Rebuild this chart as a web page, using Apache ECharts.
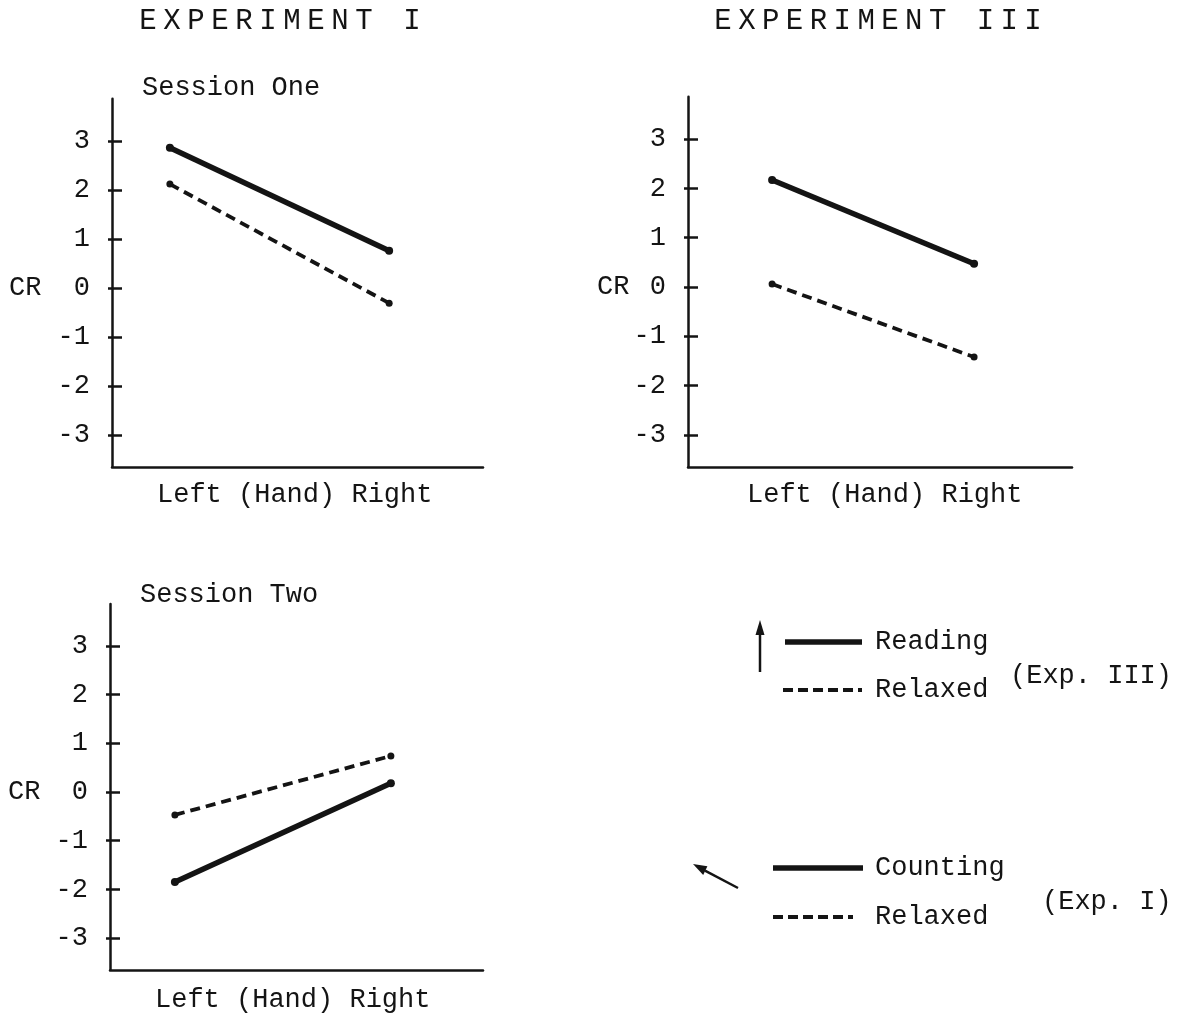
<!DOCTYPE html>
<html>
<head>
<meta charset="utf-8">
<script src="https://cdn.jsdelivr.net/npm/echarts@6/dist/echarts.min.js"></script>
<style>
  html, body { margin: 0; padding: 0; background: #fff; }
  #chart { width: 1181px; height: 1017px; }
</style>
</head>
<body>
<div id="chart"></div>
<script>
// values (CR scale)
var yTicks = [-3, -2, -1, 0, 1, 2, 3];
var yMin = -3.65, yMax = 3.86;

// horizontal position of Left / Right hand points inside each panel (0..10)
var handPosOne = [1.56, 7.47];
var handPosThree = [2.19, 7.45];
var handPosTwo = [1.74, 7.53];

var sessionOneCounting = [2.86, 0.76];
var sessionOneRelaxed = [2.12, -0.31];
var expThreeReading = [2.17, 0.47];
var expThreeRelaxed = [0.06, -1.42];
var sessionTwoCounting = [-1.85, 0.18];
var sessionTwoRelaxed = [-0.47, 0.74];

var FONT = '"Liberation Mono", "DejaVu Sans Mono", monospace';
var INK = '#141414';

var myChart = echarts.init(document.getElementById('chart'));

// grid placement: zero line y + pixels per unit
function gridFor(left, right, zeroY, unit) {
    return {
        left: left,
        width: right - left,
        top: zeroY - yMax * unit,
        height: (yMax - yMin) * unit
    };
}

function pts(pos, vals) {
    return [[pos[0], vals[0]], [pos[1], vals[1]]];
}

var xAxes = [0, 1, 2].map(function(i) {
    return {
        type: 'value',
        gridIndex: i,
        min: 0,
        max: 10,
        axisLine: { show: true, onZero: false, lineStyle: { color: INK, width: 2.5 } },
        axisTick: { show: false },
        axisLabel: { show: false },
        splitLine: { show: false }
    };
});

var yAxes = [0, 1, 2].map(function(i) {
    return {
        type: 'value',
        gridIndex: i,
        position: 'left',
        min: yMin,
        max: yMax,
        axisLine: { show: true, lineStyle: { color: INK, width: 2.5 } },
        axisTick: {
            show: true,
            inside: true,
            length: 10,
            customValues: yTicks,
            lineStyle: { color: INK, width: 2.5 }
        },
        axisLabel: {
            show: true,
            margin: 22,
            customValues: yTicks,
            color: INK,
            fontFamily: FONT,
            fontSize: 27
        },
        splitLine: { show: false }
    };
});
// short outer part of the ticks (they cross the axis line)
[0, 1, 2].forEach(function(i) {
    yAxes.push({
        type: 'value',
        gridIndex: i,
        position: 'left',
        offset: 0,
        min: yMin,
        max: yMax,
        axisLine: { show: false },
        axisTick: {
            show: true,
            inside: false,
            length: 4,
            customValues: yTicks,
            lineStyle: { color: INK, width: 2.5 }
        },
        axisLabel: { show: false },
        splitLine: { show: false }
    });
});

function lineSeries(idx, data, dashed) {
    return {
        type: 'line',
        xAxisIndex: idx,
        yAxisIndex: idx,
        data: data,
        symbol: 'circle',
        symbolSize: dashed ? 7 : 8,
        itemStyle: { color: INK },
        lineStyle: dashed
            ? { color: INK, width: 3.8, type: [10, 6] }
            : { color: INK, width: 5.5 },
        animation: false
    };
}

var series = [
    lineSeries(0, pts(handPosOne, sessionOneCounting), false),
    lineSeries(0, pts(handPosOne, sessionOneRelaxed), true),
    lineSeries(1, pts(handPosThree, expThreeReading), false),
    lineSeries(1, pts(handPosThree, expThreeRelaxed), true),
    lineSeries(2, pts(handPosTwo, sessionTwoCounting), false),
    lineSeries(2, pts(handPosTwo, sessionTwoRelaxed), true)
];

function txt(text, x, y, align, size) {
    return {
        type: 'text',
        x: x,
        y: y,
        style: {
            text: text,
            fill: INK,
            font: (size || 27) + 'px ' + FONT,
            align: align || 'left',
            verticalAlign: 'middle',
            textAlign: align || 'left',
            textVerticalAlign: 'middle'
        }
    };
}

function spaced(text, x0, pitch, y) {
    var out = [];
    for (var i = 0; i < text.length; i++) {
        if (text[i] !== ' ') {
            out.push(txt(text[i], x0 + i * pitch, y, 'center', 29));
        }
    }
    return out;
}

function seg(x1, y1, x2, y2, w, dash) {
    return {
        type: 'line',
        shape: { x1: x1, y1: y1, x2: x2, y2: y2 },
        style: { stroke: INK, lineWidth: w, lineDash: dash || null }
    };
}

var graphics = []
    .concat(spaced('EXPERIMENT I', 148, 24, 21))
    .concat(spaced('EXPERIMENT III', 723, 23.85, 21))
    .concat([
        txt('Session One', 142, 88),
        txt('Session Two', 140, 595),
        txt('CR', 9, 288),
        txt('CR', 597, 287),
        txt('CR', 8, 792),
        txt('Left (Hand) Right', 157, 495),
        txt('Left (Hand) Right', 747, 495),
        txt('Left (Hand) Right', 155, 1000),

        // legend, Exp. III
        seg(760, 672, 760, 632, 2.5),
        { type: 'polygon', shape: { points: [[760, 620], [755.5, 635], [764.5, 635]] }, style: { fill: INK } },
        seg(785, 642, 862, 642, 5.5),
        txt('Reading', 875, 642),
        seg(783, 690, 862, 690, 3.8, [10, 5]),
        txt('Relaxed', 875, 690),
        txt('(Exp. III)', 1010, 676),

        // legend, Exp. I
        seg(738, 888, 705, 870.6, 2.5),
        { type: 'polygon', shape: { points: [[693, 864], [707.4, 866.2], [703.2, 875]] }, style: { fill: INK } },
        seg(773, 868, 863, 868, 5.5),
        txt('Counting', 875, 868),
        seg(773, 917, 853, 917, 3.8, [10, 5]),
        txt('Relaxed', 875, 917),
        txt('(Exp. I)', 1042, 902)
    ]);

var option = {
    backgroundColor: '#ffffff',
    animation: false,
    grid: [
        gridFor(112, 483, 288, 49),
        gridFor(688, 1072, 287, 49.3),
        gridFor(110, 483, 792, 48.7)
    ],
    xAxis: xAxes,
    yAxis: yAxes,
    series: series,
    graphic: graphics
};

myChart.setOption(option);
</script>
</body>
</html>
